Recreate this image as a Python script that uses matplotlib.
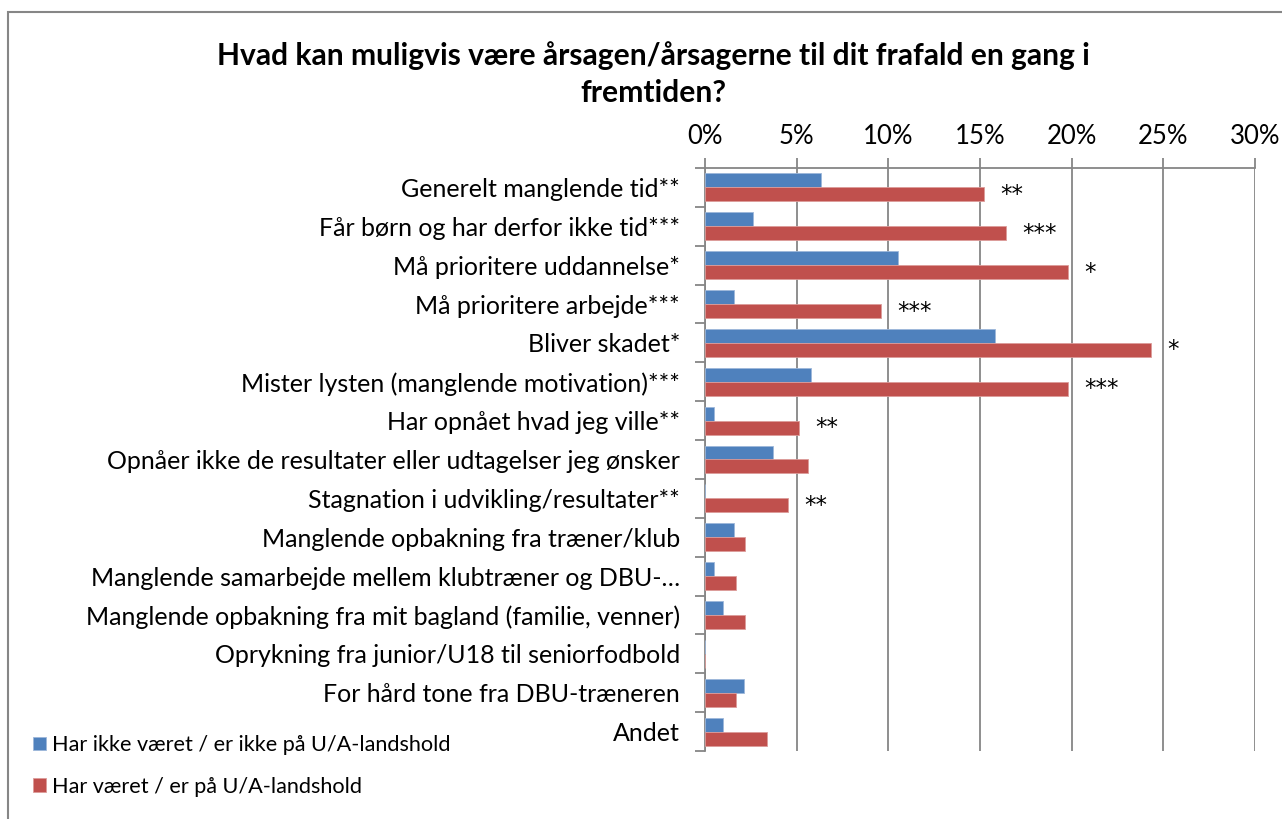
import matplotlib
matplotlib.use("Agg")
import matplotlib.pyplot as plt
from matplotlib.patches import Rectangle
from matplotlib.ticker import PercentFormatter, FixedLocator

plt.rcParams['font.family'] = ['Lato', 'DejaVu Sans']

kategorier = [
    "Generelt manglende tid**",
    "Får børn og har derfor ikke tid***",
    "Må prioritere uddannelse*",
    "Må prioritere arbejde***",
    "Bliver skadet*",
    "Mister lysten (manglende motivation)***",
    "Har opnået hvad jeg ville**",
    "Opnåer ikke de resultater eller udtagelser jeg ønsker",
    "Stagnation i udvikling/resultater**",
    "Manglende opbakning fra træner/klub",
    "Manglende samarbejde mellem klubtræner og DBU-…",
    "Manglende opbakning fra mit bagland (familie, venner)",
    "Oprykning fra junior/U18 til seniorfodbold",
    "For hård tone fra DBU-træneren",
    "Andet",
]
ikke_landshold = [0.063, 0.026, 0.105, 0.016, 0.158, 0.058, 0.005, 0.037, 0.0,
                  0.016, 0.005, 0.010, 0.0, 0.021, 0.010]
landshold = [0.152, 0.164, 0.198, 0.096, 0.243, 0.198, 0.051, 0.056, 0.045,
             0.022, 0.017, 0.022, 0.0, 0.017, 0.034]
stjerner = ["**", "***", "*", "***", "*", "***", "**", "", "**",
            "", "", "", "", "", ""]
serie_navne = ["Har ikke været / er ikke på U/A-landshold",
               "Har været / er på U/A-landshold"]

BLAA = "#4F81BD"
ROED = "#C0504D"
GRAA = "#868686"

W, H = 1282, 819
fig = plt.figure(figsize=(W / 100, H / 100), dpi=100)
ax = fig.add_axes([705 / W, 1 - 751 / H, 550 / W, (751 - 168) / H])

pos = list(range(len(kategorier)))
h = 0.36
b1 = ax.barh([p - h / 2 for p in pos], ikke_landshold, height=h, color=BLAA,
             edgecolor="#9DB7DA", linewidth=0.6, zorder=3)
b2 = ax.barh([p + h / 2 for p in pos], landshold, height=h, color=ROED,
             edgecolor="#DC9C9A", linewidth=0.6, zorder=3)

# signifikans-stjerner til hoejre for de roede soejler
for p, v, s in zip(pos, landshold, stjerner):
    if s:
        ax.annotate(s, (v, p + h / 2), xytext=(12, 0), textcoords="offset points",
                    ha="left", va="center", fontsize=16.5, family="DejaVu Sans")

ax.set_xlim(0, 0.30)
ax.set_ylim(len(kategorier) - 0.5, -0.5)
ax.xaxis.set_major_locator(FixedLocator([0, 0.05, 0.10, 0.15, 0.20, 0.25, 0.30]))
ax.xaxis.set_major_formatter(PercentFormatter(1.0, decimals=0))
ax.xaxis.tick_top()
ax.tick_params(axis="x", direction="out", length=7, width=1.3, color=GRAA,
               labelsize=18.5, pad=7)
ax.grid(axis="x", color=GRAA, linewidth=1.3, zorder=0)

ax.set_yticks([p - 0.5 for p in pos] + [len(pos) - 0.5])
ax.set_yticklabels([])
ax.set_yticks(pos, minor=True)
ax.set_yticklabels(kategorier, minor=True, fontsize=18)
ax.tick_params(axis="y", which="major", direction="out", length=7, width=1.3, color=GRAA)
ax.tick_params(axis="y", which="minor", length=0, pad=18)

for side in ("right", "bottom"):
    ax.spines[side].set_visible(False)
for side in ("left", "top"):
    ax.spines[side].set_color(GRAA)
    ax.spines[side].set_linewidth(1.3)

fig.text(653 / W, 1 - 74 / H,
         "Hvad kan muligvis være årsagen/årsagerne til dit frafald en gang i\nfremtiden?",
         ha="center", va="center", fontsize=21.6, fontweight="bold", linespacing=1.4)

fig.legend([b1, b2], serie_navne, loc="center left",
           bbox_to_anchor=(13 / W, 1 - 766 / H), frameon=False, fontsize=15.6,
           handlelength=0.6, handleheight=0.6, handletextpad=0.3, labelspacing=1.0)

fig.patches.append(Rectangle((7.5 / W, -0.1), 1.2, 1 - 12.5 / H + 0.1,
                             transform=fig.transFigure, fill=False,
                             edgecolor=GRAA, linewidth=1.5))

fig.savefig("out.png", dpi=100)
